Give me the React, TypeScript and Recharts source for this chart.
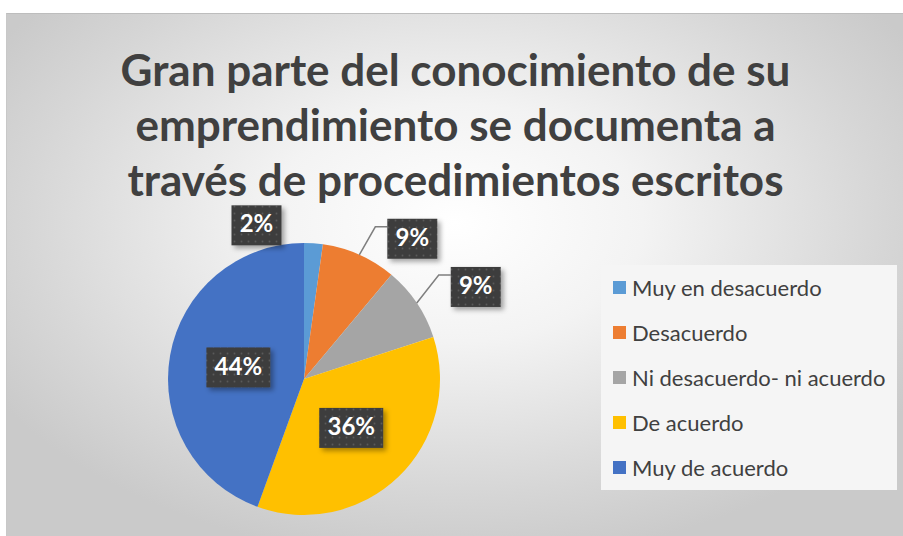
import { PieChart, Pie, Cell, Legend } from 'recharts';

const categories = [
  'Muy en desacuerdo',
  'Desacuerdo',
  'Ni desacuerdo- ni acuerdo',
  'De acuerdo',
  'Muy de acuerdo',
];
const counts = [1, 4, 4, 16, 20];
const colors = ['#5B9BD5', '#ED7D31', '#A5A5A5', '#FFC000', '#4472C4'];

const titleLines = [
  'Gran parte del conocimiento de su',
  'emprendimiento se documenta a',
  'través de procedimientos escritos',
];

// label placement tweaks (Excel "best fit" look)
const labelPlacement = [
  { k: 1.0, dx: -57, dy: -18, leader: false },
  { k: 1.0, dx: 53, dy: -16, leader: true },
  { k: 1.0, dx: 59, dy: -16, leader: true },
  { k: 0.5, dx: 0, dy: 0, leader: false },
  { k: 0.49, dx: 0, dy: 0, leader: false },
];

const RADIAN = Math.PI / 180;

const chartData = categories.map((name, i) => ({ name, value: counts[i] }));

function renderLabel(props: any) {
  const { cx, cy, midAngle, outerRadius, percent, index } = props;
  const p = labelPlacement[index];
  const r = outerRadius * p.k;
  const ox = cx + r * Math.cos(-midAngle * RADIAN);
  const oy = cy + r * Math.sin(-midAngle * RADIAN);
  const x = ox + p.dx;
  const y = oy + p.dy;
  const text = `${Math.round(percent * 100)}%`;
  const w = text.length > 2 ? 64 : 50;
  const h = 40;
  const left = x - w / 2;
  return (
    <g key={`lbl-${index}`}>
      {p.leader && (
        <polyline
          points={`${ox},${oy} ${left - 12},${y - 12} ${left},${y - 12}`}
          fill="none"
          stroke="#7f7f7f"
          strokeWidth={1.5}
        />
      )}
      <rect x={left} y={y - h / 2} width={w} height={h} fill="url(#dotPattern)" filter="url(#boxShadow)" />
      <text
        x={x}
        y={y + 1}
        textAnchor="middle"
        dominantBaseline="middle"
        fill="#ffffff"
        fontFamily="Lato, 'Noto Sans', sans-serif"
        fontWeight={700}
        fontSize={24}
      >
        {text}
      </text>
    </g>
  );
}

// keep the legend in data order (Excel order), not sorted
function renderLegend() {
  return (
    <div
      style={{
        width: 296,
        height: 225,
        background: '#f5f5f5',
        boxSizing: 'border-box',
      }}
    >
      {categories.map((name, i) => (
        <div
          key={`leg-${i}`}
          style={{
            display: 'flex',
            alignItems: 'center',
            height: 45,
            paddingLeft: 12,
            fontFamily: "Lato, 'Noto Sans', sans-serif",
            fontSize: 22,
            color: '#404040',
          }}
        >
          <span style={{ display: 'inline-block', width: 13, height: 13, background: colors[i], marginRight: 6 }} />
          {name}
        </div>
      ))}
    </div>
  );
}

export default function App() {
  return (
    <div style={{ position: 'absolute', left: 0, top: 0, width: 903, height: 536, background: '#ffffff' }}>
      <div
        style={{
          position: 'absolute',
          left: 6,
          top: 13,
          width: 897,
          height: 523,
          borderTop: '1px solid #bdbdbd',
          borderLeft: '1px solid #c8c8c8',
          boxSizing: 'border-box',
          background: 'radial-gradient(ellipse 60% 65% at 50% 40%, #ffffff 0%, #f3f3f3 35%, #d6d6d6 80%, #cacaca 100%)',
        }}
      >
        <div
          style={{
            position: 'absolute',
            left: 0,
            top: 28,
            width: 897,
            textAlign: 'center',
            fontFamily: "Lato, 'Noto Sans', sans-serif",
            fontWeight: 700,
            fontSize: 44,
            lineHeight: '55px',
            color: '#404040',
          }}
        >
          {titleLines.map((t, i) => (
            <div key={i}>{t}</div>
          ))}
        </div>
        <div style={{ position: 'absolute', left: 0, top: 0 }}>
          <PieChart width={896} height={522} margin={{ top: 0, right: 0, bottom: 0, left: 0 }}>
            <defs>
              <pattern id="dotPattern" width="7" height="7" patternUnits="userSpaceOnUse">
                <rect width="7" height="7" fill="#3d3d3d" />
                <circle cx="3.5" cy="3.5" r="0.9" fill="#5a5a5a" />
              </pattern>
              <filter id="boxShadow" x="-20%" y="-20%" width="150%" height="160%">
                <feDropShadow dx="3" dy="3" stdDeviation="2.5" floodColor="#000" floodOpacity="0.35" />
              </filter>
            </defs>
            <Pie
              data={chartData}
              dataKey="value"
              nameKey="name"
              cx={297}
              cy={365}
              outerRadius={136}
              startAngle={90}
              endAngle={-270}
              stroke="none"
              label={renderLabel}
              labelLine={false}
              isAnimationActive={false}
            >
              {chartData.map((_, i) => (
                <Cell key={`c-${i}`} fill={colors[i]} />
              ))}
            </Pie>
            <Legend
              content={renderLegend}
              layout="vertical"
              wrapperStyle={{ left: 594, top: 251, width: 296, height: 225 }}
            />
          </PieChart>
        </div>
      </div>
    </div>
  );
}
